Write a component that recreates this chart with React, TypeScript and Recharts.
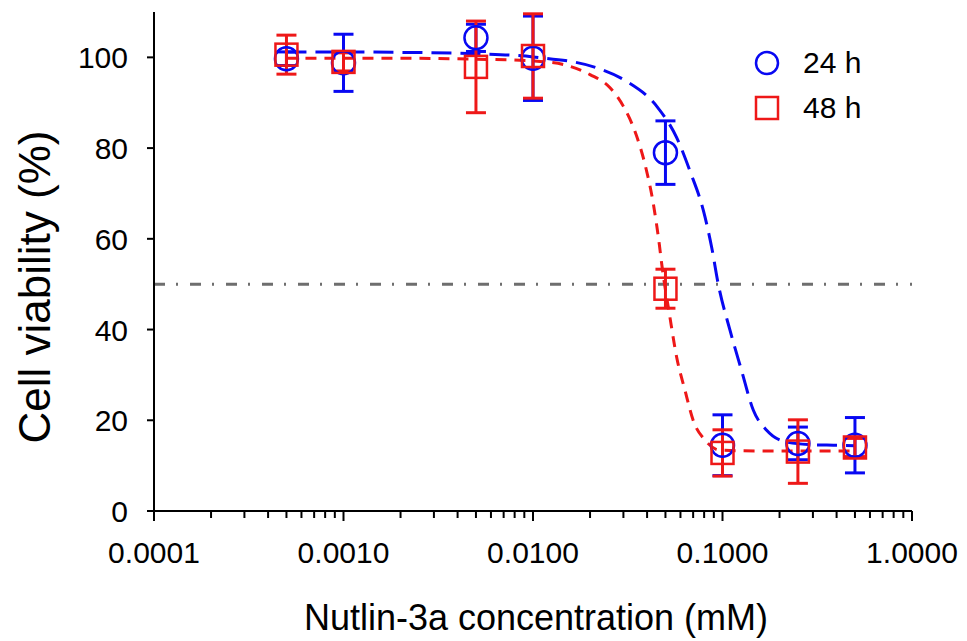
import React from 'react';
import {
  ComposedChart,
  Line,
  Scatter,
  ErrorBar,
  XAxis,
  YAxis,
  ReferenceLine,
} from 'recharts';

// measured concentrations (mM)
const concentrations = [0.0005, 0.001, 0.005, 0.01, 0.05, 0.1, 0.25, 0.5];

// mean viability (%) and error (±)
const viability24 = [99.7, 98.8, 104.3, 99.8, 79.0, 14.5, 14.9, 14.5];
const error24 = [1.5, 6.3, 3.0, 9.3, 7.0, 6.7, 3.6, 6.1];
const viability48 = [100.6, 99.0, 97.9, 100.3, 49.0, 12.8, 13.1, 14.0];
const error48 = [4.3, 2.0, 10.1, 9.3, 4.3, 5.1, 7.0, 2.0];

// fitted curves
const fitX24 = [0.0005, 0.001, 0.002, 0.005, 0.01, 0.0217, 0.0312, 0.045, 0.0573, 0.0674, 0.0793, 0.0877, 0.095, 0.1096, 0.126, 0.1455, 0.171, 0.218, 0.3, 0.385, 0.5];
const fitY24 = [101.2, 101.2, 101.1, 100.8, 100.1, 97.7, 94.7, 89.2, 82.3, 74.9, 66.2, 58.1, 50.0, 39.8, 31.0, 22.2, 17.8, 15.2, 14.6, 14.5, 14.4];
const fitX48 = [0.0005, 0.001, 0.002, 0.005, 0.01, 0.0145, 0.02, 0.0255, 0.03, 0.0345, 0.039, 0.0432, 0.0464, 0.0478, 0.0528, 0.0573, 0.0634, 0.07, 0.081, 0.097, 0.2, 0.5];
const fitY48 = [99.8, 99.8, 99.8, 99.6, 99.2, 98.4, 96.2, 93.3, 89.2, 83.7, 76.4, 67.6, 58.8, 54.4, 42.7, 33.9, 26.6, 20.0, 15.6, 13.4, 13.2, 13.2];

const majorTicks = [0.0001, 0.001, 0.01, 0.1, 1];
const minorSteps = [2, 3, 4, 5, 6, 7, 8, 9];
const minorTicks = majorTicks.slice(0, 4).flatMap((d) => minorSteps.map((s) => +(d * s).toPrecision(3)));
const yTicks = [0, 20, 40, 60, 80, 100];

const legendItems = [
  { label: '24 h', shape: 'circle' },
  { label: '48 h', shape: 'square' },
];

const BLUE = '#0808f2';
const RED = '#ee1818';
const FONT = '"Liberation Sans", Arial, sans-serif';

const points24 = concentrations.map((x, i) => ({ x, y: viability24[i], err: error24[i] }));
const points48 = concentrations.map((x, i) => ({ x, y: viability48[i], err: error48[i] }));
const fit24 = fitX24.map((x, i) => ({ x, y: fitY24[i] }));
const fit48 = fitX48.map((x, i) => ({ x, y: fitY48[i] }));

const XTick = (props: any) => {
  const { x, y, payload } = props;
  const v = payload.value;
  const major = majorTicks.some((m) => Math.abs(m - v) < m * 1e-6);
  return (
    <g>
      <line x1={x} x2={x} y1={y} y2={y + (major ? 10 : 7)} stroke="#000" strokeWidth={2} />
      {major && (
        <text x={x} y={y + 52} textAnchor="middle" fontSize={30} fontFamily={FONT} fill="#000">
          {v.toFixed(4)}
        </text>
      )}
    </g>
  );
};

const YTick = (props: any) => {
  const { x, y, payload } = props;
  return (
    <g>
      <line x1={x - 7} x2={x} y1={y} y2={y} stroke="#000" strokeWidth={2} />
      <text x={x - 26} y={y + 11} textAnchor="end" fontSize={30} fontFamily={FONT} fill="#000">
        {payload.value}
      </text>
    </g>
  );
};

const CircleMark = (p: any) => (
  <circle cx={p.cx} cy={p.cy} r={11.5} fill="none" stroke={BLUE} strokeWidth={2.5} />
);

const SquareMark = (p: any) => (
  <rect x={p.cx - 11} y={p.cy - 11} width={22} height={22} fill="none" stroke={RED} strokeWidth={2.5} />
);

const LegendBox = () => (
  <div style={{ position: 'absolute', left: 746, top: 32, fontFamily: FONT, fontSize: 30, color: '#000' }}>
    {legendItems.map((item) => (
      <div key={item.label} style={{ display: 'flex', alignItems: 'center', height: 45, lineHeight: '45px' }}>
        <svg width={26} height={26} style={{ marginRight: 23 }}>
          {item.shape === 'circle' ? (
            <circle cx={13} cy={13} r={11} fill="none" stroke={BLUE} strokeWidth={2.5} />
          ) : (
            <rect x={2} y={2} width={22} height={22} fill="none" stroke={RED} strokeWidth={2.5} />
          )}
        </svg>
        <span>{item.label}</span>
      </div>
    ))}
  </div>
);

export default function App() {
  return (
    <div style={{ position: 'relative', width: 959, height: 633 }}>
      <ComposedChart width={959} height={633} margin={{ top: 4, right: 55, left: 0, bottom: 30 }}>
        <XAxis
          dataKey="x"
          type="number"
          scale="log"
          domain={[0.0001, 1]}
          allowDataOverflow
          ticks={[...majorTicks, ...minorTicks]}
          interval={0}
          tickSize={0}
          tickMargin={0}
          tickLine={false}
          tick={<XTick />}
          height={100}
          axisLine={{ stroke: '#000', strokeWidth: 2 }}
          label={{
            content: () => (
              <text x={528} y={622} textAnchor="middle" fontSize={36} fontFamily={FONT} fill="#000">
                Nutlin-3a concentration (mM)
              </text>
            ),
          }}
        />
        <YAxis
          dataKey="y"
          type="number"
          domain={[0, 110]}
          ticks={yTicks}
          interval={0}
          tickSize={0}
          tickMargin={0}
          tickLine={false}
          tick={<YTick />}
          width={146}
          axisLine={{ stroke: '#000', strokeWidth: 2 }}
          label={{
            content: () => (
              <text
                x={26}
                y={279}
                transform="rotate(-90 26 279)"
                textAnchor="middle"
                dominantBaseline="central"
                fontSize={44}
                fontFamily={FONT}
                fill="#000"
              >
                Cell viability (%)
              </text>
            ),
          }}
        />
        <ReferenceLine y={50} stroke="#6e6e6e" strokeWidth={3} strokeDasharray="11 11 2 12" />
        <Line
          data={fit24}
          dataKey="y"
          type="monotone"
          stroke={BLUE}
          strokeWidth={3}
          strokeDasharray="20 9"
          dot={false}
          activeDot={false}
          isAnimationActive={false}
        />
        <Line
          data={fit48}
          dataKey="y"
          type="monotone"
          stroke={RED}
          strokeWidth={3}
          strokeDasharray="11 8"
          dot={false}
          activeDot={false}
          isAnimationActive={false}
        />
        <Scatter data={points24} dataKey="y" shape={<CircleMark />} isAnimationActive={false}>
          <ErrorBar dataKey="err" direction="y" width={10} stroke={BLUE} strokeWidth={3} />
        </Scatter>
        <Scatter data={points48} dataKey="y" shape={<SquareMark />} isAnimationActive={false}>
          <ErrorBar dataKey="err" direction="y" width={10} stroke={RED} strokeWidth={3} />
        </Scatter>
      </ComposedChart>
      <LegendBox />
    </div>
  );
}
